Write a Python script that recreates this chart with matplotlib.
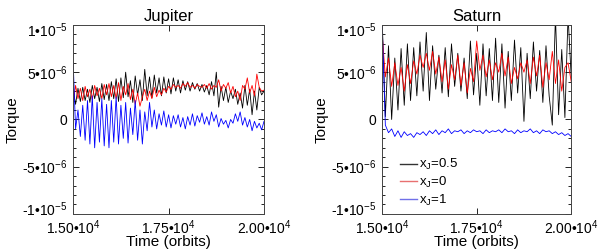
import numpy as np
import matplotlib
matplotlib.use('Agg')
import matplotlib.pyplot as plt
import matplotlib.transforms as mtransforms
from matplotlib.ticker import MultipleLocator

plt.rcParams['font.family'] = ['Liberation Sans', 'DejaVu Sans']
plt.rcParams['mathtext.fontset'] = 'custom'
plt.rcParams['mathtext.rm'] = 'Liberation Sans'
plt.rcParams['mathtext.it'] = 'Liberation Sans'
plt.rcParams['mathtext.default'] = 'regular'

# torque values in units of 1e-6, sampled evenly over 1.5e4 - 2.0e4 orbits
jup_black = [3.2, 1.6, 3.3, 1.9, 3.4, 2.0, 3.2, 1.8, 3.6, 2.2, 3.4, 1.9, 3.8, 2.1, 3.7, 2.0, 4.0,
             2.2, 4.3, 1.9, 4.4, 2.3, 5.0, 2.4, 4.1, 1.8, 4.6, 2.6, 4.2, 2.0, 5.3, 2.5, 4.5, 2.3, 4.7, 2.8, 4.4, 2.5, 4.5, 2.8, 4.3,
             2.7, 4.4, 3.0, 4.2, 2.8, 4.1, 3.1, 4.0, 3.0, 3.9, 3.2, 3.8, 3.0, 3.7, 2.9, 3.6,
             2.6, 4.0, 2.5, 5.0, 1.3, 3.5, 2.0, 3.4, 1.8, 3.0, 2.2, 3.2, 1.6, 2.8, 1.2, 3.6, 1.5, 3.2, 0.5, 3.0, 1.0, 3.4, 2.6, 3.0]
jup_red = [1.8, 3.6, 2.2, 3.3, 2.0, 3.5, 2.4, 3.2, 2.1, 3.6, 2.5, 3.3, 2.2, 3.7, 2.6, 3.8, 2.4,
           3.6, 2.2, 3.9, 2.0, 3.5, 2.6, 3.8, 2.1, 3.2, 1.6, 2.8, 1.4, 2.4, 3.2, 2.0, 3.0, 2.2, 3.4, 2.4, 3.1, 2.6, 3.3, 2.9, 3.5,
           3.2, 3.7, 3.4, 3.6, 3.3, 3.8, 3.5, 3.9, 3.4, 3.6, 3.3, 3.7, 3.5, 3.4, 3.7, 3.3,
           3.8, 3.2, 3.6, 3.4, 4.2, 3.0, 3.7, 3.3, 3.9, 2.8, 3.5, 2.4, 3.0, 2.0, 3.6, 3.2, 4.4, 2.8, 3.6, 2.5, 4.8, 3.4, 3.0, 3.1]
jup_blue = [6.0, -1.0, 1.0, -1.8, 1.5, -2.2, 2.0, -2.6, 2.5, -3.0, 1.8, -2.4, 2.2, -2.8, 1.6, -3.0, 2.0,
            -2.4, 2.4, -2.6, 1.5, -2.0, 1.8, -2.5, 1.2, -1.6, 2.0, -2.2, 1.0, -2.6, 0.8, -1.2, 1.8, -0.8, 1.0, -1.0, 0.6, -0.6, 0.9, -0.8, 0.5,
            -0.9, 0.4, -0.5, 0.5, -0.8, 0.2, -1.0, 0.3, -0.6, 0.6, -0.7, 0.4, -0.3, 0.7, -0.5, 0.3,
            -0.6, 0.8, -0.2, 0.5, -0.8, 0.1, -0.5, -0.1, -0.9, 0.0, -0.4, 0.6, -0.2, 0.8, -0.6, 0.2, -0.8, 0.0, -1.2, -0.2, -0.9, -0.4, -1.1, -0.2]

sat_black = [10.5, 0.3, 7.8, 0.0, 6.5, 1.0, 7.5, 1.5, 8.0, 2.0, 7.6, 2.5, 8.2, 3.0, 9.2,
             2.0, 7.8, 3.2, 6.8, 2.8, 7.6, 2.4, 8.0, 3.5, 7.0, 3.0, 6.5, 2.2, 8.3, 2.6, 7.0,
             1.5, 8.0, 2.5, 7.5, 2.0, 8.6, 1.8, 8.0, 1.2, 7.2, 2.0, 8.4, 2.8, 7.6, -0.2,
             7.0, 2.2, 8.2, 3.0, 7.3, 1.8, 7.8, 2.5, -0.6, 11.0, 0.5, 7.4, 0.2, 11.0, 4.5]
sat_red = [9.0, 4.5, 6.5, 3.5, 6.0, 3.6, 5.5, 3.0, 5.8, 3.8, 6.2, 4.8, 6.8, 5.5, 7.0,
           5.2, 7.2, 4.8, 6.6, 4.0, 6.3, 3.2, 5.8, 4.2, 6.8, 3.6, 6.0, 2.8, 5.4, 4.0, 8.3,
           5.2, 6.8, 4.5, 6.3, 4.2, 6.0, 5.0, 7.0, 4.6, 6.6, 3.8, 5.5, 4.3, 6.0, 5.0,
           6.3, 3.8, 6.6, 4.6, 6.8, 3.4, 6.0, 4.2, 7.2, 3.8, 6.3, 3.0, 5.5, 6.0, 4.0]
sat_blue = [10.0, -0.6, -1.4, -1.0, -1.8, -1.2, -1.9, -1.3, -1.7, -1.5, -1.9, -1.4, -1.6, -1.3, -1.7,
            -1.2, -1.5, -1.1, -1.6, -1.2, -1.4, -1.0, -1.5, -1.2, -1.3, -1.1, -1.5, -1.2, -1.4, -1.1,
            -1.3, -1.2, -1.5, -1.1, -1.4, -1.2, -1.3, -1.1, -1.4, -1.0, -1.3, -1.2, -1.5, -1.1, -1.4,
            -1.2, -1.3, -1.0, -1.4, -1.2, -1.5, -1.1, -1.3, -1.2, -1.5, -1.3, -1.6, -1.4, -1.7, -1.5, -1.8]

labels = [r'x$_J$=0.5', r'x$_J$=0', r'x$_J$=1']
xticks = [15000, 17500, 20000]
xticklabels = [r'1.50•10$^{4}$', r'1.75•10$^{4}$', r'2.00•10$^{4}$']
yticks = [-1e-5, -5e-6, 0, 5e-6, 1e-5]
yticklabels = [r'-1•10$^{-5}$', r'-5•10$^{-6}$', '0', r'5•10$^{-6}$', r'1•10$^{-5}$']

fig = plt.figure(figsize=(6, 2.52), dpi=100)
ax1 = fig.add_axes([0.122, 0.151, 0.318, 0.75])
ax2 = fig.add_axes([0.637, 0.151, 0.315, 0.75])


def draw(ax, black, red, blue, title):
    lines = []
    for vals, col, lab in [(black, 'black', labels[0]), (red, 'red', labels[1]), (blue, 'blue', labels[2])]:
        t = np.linspace(15000, 20000, len(vals))
        ln, = ax.plot(t, np.array(vals) * 1e-6, color=col, lw=0.6, label=lab)
        lines.append(ln)
    ax.set_xlim(15000, 20000)
    ax.set_ylim(-1e-5, 1e-5)
    ax.set_xticks(xticks)
    ax.set_xticklabels(xticklabels, fontsize=10)
    ax.set_yticks(yticks)
    ax.set_yticklabels(yticklabels, fontsize=10)
    ax.yaxis.set_minor_locator(MultipleLocator(1e-6))
    ax.tick_params(which='both', direction='in', top=True, right=True, width=0.6)
    ax.tick_params(which='major', length=4, pad=4)
    ax.tick_params(axis='x', which='major', pad=3)
    ax.tick_params(which='minor', length=2.5)
    for s in ax.spines.values():
        s.set_linewidth(0.7)
        s.set_color('#444444')
    # IDL-style: end labels sit inside the axis range
    tl = ax.get_yticklabels()
    tl[0].set_transform(tl[0].get_transform() + mtransforms.ScaledTranslation(0, 4 / 72, fig.dpi_scale_trans))
    tl[-1].set_transform(tl[-1].get_transform() + mtransforms.ScaledTranslation(0, -3 / 72, fig.dpi_scale_trans))
    ax.set_title(title, fontsize=12, pad=3)
    ax.set_xlabel('Time (orbits)', fontsize=11, labelpad=-1)
    ax.set_ylabel('Torque', fontsize=11, labelpad=2)
    return lines


draw(ax1, jup_black, jup_red, jup_blue, 'Jupiter')
lines = draw(ax2, sat_black, sat_red, sat_blue, 'Saturn')

leg = ax2.legend(handles=lines, loc='upper left', bbox_to_anchor=(0.095, 0.30), frameon=False,
                 fontsize=9.5, handlelength=1.3, handletextpad=0.1, labelspacing=0.2,
                 borderpad=0, borderaxespad=0)
for h, c in zip(leg.get_lines(), ['#333333', '#e87070', '#7070e8']):
    h.set_color(c)
    h.set_linewidth(1.0)
    h.set_alpha(1.0)

fig.savefig('out.png', dpi=100)
